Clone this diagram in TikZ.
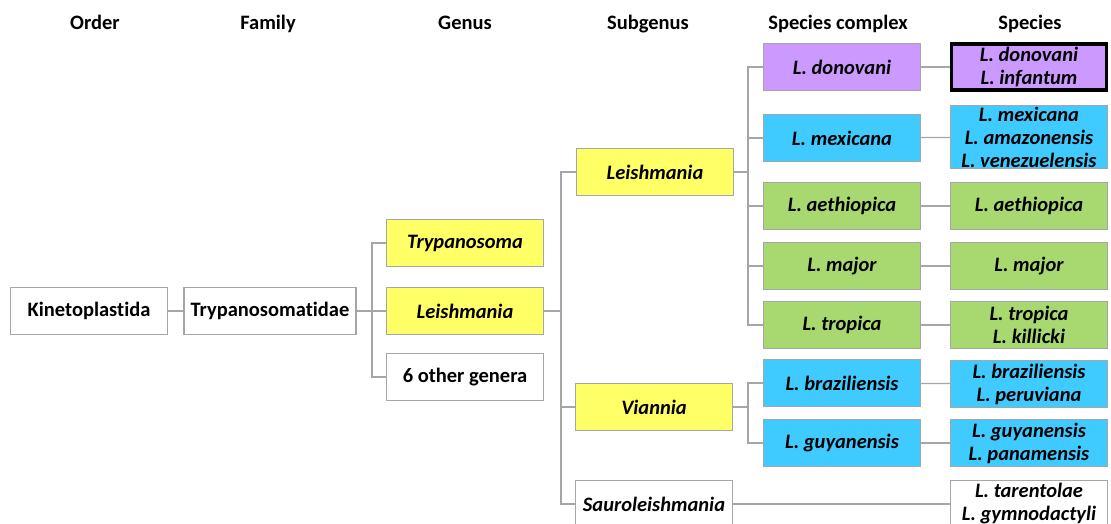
\documentclass[tikz,border=0pt]{standalone}
\usepackage{fontspec}
\setmainfont{Carlito}[Ligatures=NoCommon]

\definecolor{genusyellow}{HTML}{FFFF66}
\definecolor{cxpurple}{HTML}{CC99FF}
\definecolor{cxblue}{HTML}{3FCBFF}
\definecolor{cxgreen}{HTML}{A8D870}
\definecolor{linegray}{HTML}{A6A6A6}

\begin{document}
\begin{tikzpicture}[x=1pt,y=-1pt,
  taxon/.style={draw=linegray,line width=1.3pt,fill=white,minimum width=157pt,
    minimum height=47pt,inner sep=1pt,align=center,
    font=\fontsize{20.5}{23}\selectfont\bfseries},
  sp/.style={taxon,font=\fontsize{20.5}{23}\selectfont\bfseries\itshape},
  head/.style={font=\fontsize{20.5}{23}\selectfont\bfseries,text height=14pt,text depth=4pt},
  conn/.style={draw=linegray,line width=1.2pt}]
  \useasboundingbox (0,0) rectangle (1111,524);

  % column heads
  \foreach \x/\lab in {95/Order,268/Family,465/Genus,648/Subgenus,838/Species complex,1030/Species}
    \node[head] at (\x,25) {\lab};

  % order, family, genus
  \node[taxon] (kin)  at (89,311)  {Kinetoplastida};
  \node[taxon,minimum width=172pt] (tfam) at (270,311) {Trypanosomatidae};
  \node[sp,fill=genusyellow] (tryp) at (465,243) {Trypanosoma};
  \node[sp,fill=genusyellow] (lgen) at (465,311) {Leishmania};
  \node[taxon] (other) at (465,377) {6 other genera};

  % subgenera
  \node[sp,fill=genusyellow] (lsub) at (655,172) {Leishmania};
  \node[sp,fill=genusyellow] (vian) at (654,407) {Viannia};
  \node[sp] (saur) at (654,504) {Sauroleishmania};

  % species complexes
  \foreach \nm/\y/\col/\txt in {don/67/cxpurple/L. donovani,mex/138/cxblue/L. mexicana,
      aet/206/cxgreen/L. aethiopica,maj/266/cxgreen/L. major,tro/325/cxgreen/L. tropica,
      bra/383/cxblue/L. braziliensis,guy/443/cxblue/L. guyanensis}
    \node[sp,fill=\col] (c\nm) at (842,\y) {\txt};

  % species
  \foreach \nm/\y/\col/\txt in {mex/137/cxblue/{L. mexicana\\L. amazonensis\\L. venezuelensis},
      aet/206/cxgreen/L. aethiopica,maj/266/cxgreen/L. major,
      tro/325/cxgreen/{L. tropica\\L. killicki},
      bra/384/cxblue/{L. braziliensis\\L. peruviana},
      guy/443/cxblue/{L. guyanensis\\L. panamensis}}
    \node[sp,fill=\col] (s\nm) at (1029,\y) {\txt};
  \node[sp,fill=cxpurple,draw=black,line width=3.2pt,minimum width=155pt,minimum height=46pt]
    (sdon) at (1029,67) {L. donovani\\L. infantum};
  \node[sp] (star) at (1029,504) {L. tarentolae\\L. gymnodactyli};

  % tree lines
  \coordinate (j1) at (372,311);
  \coordinate (j2) at (561,311);
  \coordinate (j3) at (748,172);
  \coordinate (j4) at (748,407);
  \draw[conn] (kin) -- (tfam);
  \draw[conn] (tfam) -- (j1) |- (tryp);
  \draw[conn] (j1) |- (lgen);
  \draw[conn] (j1) |- (other);
  \draw[conn] (lgen) -- (j2) |- (lsub);
  \draw[conn] (j2) |- (vian);
  \draw[conn] (j2) |- (saur);
  \draw[conn] (lsub) -- (j3);
  \foreach \nm in {don,mex,aet,maj,tro}
    \draw[conn] (j3) |- (c\nm);
  \draw[conn] (vian) -- (j4);
  \foreach \nm in {bra,guy}
    \draw[conn] (j4) |- (c\nm);
  \foreach \nm in {don,mex,aet,maj,tro,bra,guy}
    \draw[conn] (c\nm) -- (s\nm);
  \draw[conn] (saur) -- (star);
\end{tikzpicture}
\end{document}
